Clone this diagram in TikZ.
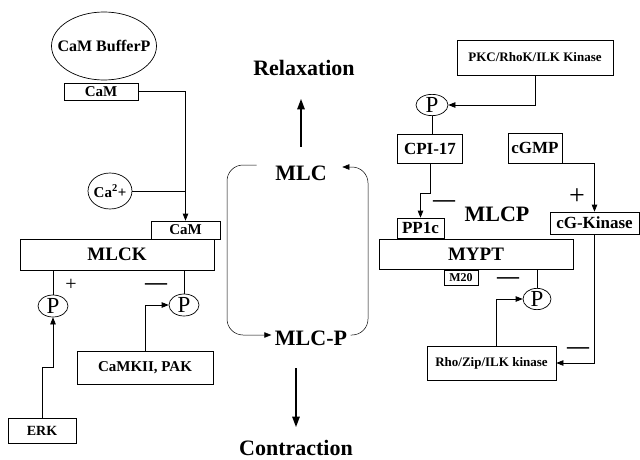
\documentclass[tikz,border=0pt]{standalone}
\usepackage{fontspec}
\setmainfont{Liberation Serif}
\usetikzlibrary{arrows.meta,positioning,shapes.geometric}

\begin{document}
\begin{tikzpicture}[x=1pt,y=-1pt,>={Triangle[length=7pt,width=5.5pt]},line width=0.7pt,
  bx/.style={draw,rectangle,inner sep=0pt,font=\bfseries\fontsize{#1}{#1}\selectfont},
  pp/.style={draw,ellipse,inner sep=0pt,minimum width=30pt,minimum height=22pt,font=\fontsize{23}{23}\selectfont},
  lb/.style={font=\bfseries\fontsize{22}{22}\selectfont},
  sg/.style={font=\fontsize{#1}{#1}\selectfont},
  thk/.style={line width=2.6pt,-{Triangle[length=11pt,width=7pt]}}]
  \fill[white](0,0)rectangle(640,460);
  \useasboundingbox (0,0) rectangle (640,460);
  % MLCK side
  \node[bx=16,ellipse,inner xsep=-14pt,minimum width=105pt,minimum height=68pt](buf)at(104,46){CaM BufferP};
  \node[bx=15,minimum width=74pt,minimum height=17pt](cam)at(101,91.5){CaM};
  \node[bx=15,ellipse,inner xsep=-6pt,minimum width=44pt,minimum height=36pt](ca)at(110,191){Ca\textsuperscript{2}+};
  \node[bx=15,minimum width=69pt,minimum height=18pt](camb)at(185.5,230){CaM};
  \node[bx=19,minimum width=194pt,minimum height=31pt](mlck)at(117,254.5){MLCK};
  \node[pp](pa)at(53,306){P};\node[pp](pb)at(184,305){P};
  \node[sg=20](plus1)at(71,285){+};\node[lb](min1)at(156,287){---};
  \node[bx=15,minimum width=136pt,minimum height=33pt](camk)at(145,367.5){CaMKII, PAK};
  \node[bx=14,minimum width=68pt,minimum height=25pt](erk)at(42,430.5){ERK};
  \draw[->](cam.east)-|(camb.north);\draw(ca.east)--(ca.east-|camb.north);
  \draw(pa)--(pa|-mlck.south);\draw(pb)--(pb|-mlck.south);
  \draw[->](camk.north)|-(pb.west);\draw[->](erk.north)--++(0,-50)-|(pa.south);
  % MLC cycle
  \node[lb](rel)at(304,68){Relaxation};\node[lb](mlc)at(301,173){MLC};
  \node[lb](mlcp)at(311,338){MLC-P};\node[lb](con)at(296,448){Contraction};
  \draw[thk,shorten <=15pt,shorten >=19pt](mlc.north)--(mlc.north|-rel.south);
  \draw[thk,shorten <=19pt,shorten >=9pt](con.north|-mlcp.south)--(con.north);
  \coordinate(lw)at(227,250);\coordinate(le)at(368,250);
  \draw[->,line width=0.5pt,rounded corners=16pt]([xshift=-15pt,yshift=8pt]mlc.west)-|(lw)|-([yshift=3pt]mlcp.west);
  \draw[->,line width=0.5pt,rounded corners=16pt]([yshift=3pt]mlcp.east)-|(le)|-([xshift=12pt,yshift=6pt]mlc.east);
  % MLCP side
  \node[bx=13,minimum width=156pt,minimum height=35pt](pkc)at(535,57.5){PKC/RhoK/ILK Kinase};
  \node[pp,minimum width=32pt,minimum height=20pt](pc)at(432,105){P};
  \node[bx=17,minimum width=65pt,minimum height=29pt](cpi)at(430,148.5){CPI-17};
  \node[bx=17,minimum width=54pt,minimum height=30pt](cgmp)at(535,148){cGMP};
  \node[bx=17,minimum width=47pt,minimum height=20pt](pp1c)at(420.5,228){PP1c};
  \node[bx=17,minimum width=89pt,minimum height=22pt](cgk)at(594.5,223){cG-Kinase};
  \node[bx=19,minimum width=194pt,minimum height=30pt](mypt)at(476,254){MYPT};
  \node[bx=12,minimum width=34pt,minimum height=15pt](m20)at(461,277.5){M20};
  \node[pp,minimum width=28pt,minimum height=18pt](pd)at(537,299){P};
  \node[bx=13,minimum width=129pt,minimum height=34pt](rho)at(491.5,363){Rho/Zip/ILK kinase};
  \node[lb](mlcpl)at(497,214){MLCP};
  \node[lb](min2)at(444,204){---};\node[sg=28](plus2)at(577,197){+};
  \node[lb](min3)at(508,281){---};\node[lb](min4)at(578,351){---};
  \draw[->](pkc.south)|-(pc.east);\draw(pc)--(pc|-cpi.north);
  \draw[->](cpi.south)--++(0,30)-|(pp1c.north);
  \draw[->](cgmp.south)-|(cgk.north);
  \draw(pd)--(pd|-mypt.south);\draw[->]([xshift=5pt]rho.north)|-(pd.west);
  \draw[->](cgk.south)|-(rho.east);
\end{tikzpicture}
\end{document}
